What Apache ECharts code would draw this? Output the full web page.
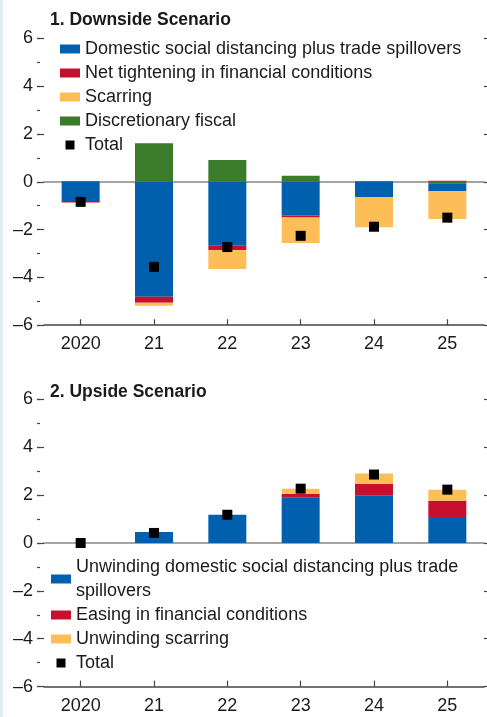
<!DOCTYPE html>
<html>
<head>
<meta charset="utf-8">
<script src="https://cdn.jsdelivr.net/npm/echarts@6/dist/echarts.min.js"></script>
<style>
html,body{margin:0;padding:0;background:#fff;}
#chart{width:487px;height:717px;position:relative;}
#strip{position:absolute;left:0;top:0;width:3px;height:717px;background:#e1ecf7;z-index:10;}
</style>
</head>
<body>
<div id="chart"></div>
<div id="strip"></div>
<script>
const categories = ['2020', '21', '22', '23', '24', '25'];
const yTicks = [-6, -4, -2, 0, 2, 4, 6];

// Panel 1: Downside Scenario
const dsNames = ['Domestic social distancing plus trade spillovers', 'Net tightening in financial conditions', 'Scarring', 'Discretionary fiscal', 'Total'];
const dsBlue   = [-0.80, -4.81, -2.68, -1.41, -0.64, -0.33];
const dsRed    = [-0.07, -0.25, -0.18, -0.08,  0.00,  0.04];
const dsYellow = [ 0.00, -0.13, -0.79, -1.07, -1.26, -1.17];
const dsGreen  = [ 0.03,  1.61,  0.91,  0.25,  0.03, -0.06];
const dsTotal  = [-0.84, -3.56, -2.73, -2.26, -1.88, -1.50];

// Panel 2: Upside Scenario
const usNames = ['Unwinding domestic social distancing plus trade\nspillovers', 'Easing in financial conditions', 'Unwinding scarring', 'Total '];
const usBlue   = [0.00, 0.46, 1.18, 1.91, 1.99, 1.09];
const usRed    = [0.00, 0.00, 0.00, 0.15, 0.49, 0.68];
const usYellow = [0.00, 0.00, 0.00, 0.21, 0.42, 0.46];
const usTotal  = [0.00, 0.42, 1.18, 2.27, 2.86, 2.23];

const C = {blue:'#0060ad', red:'#c8102e', yellow:'#fdbe57', green:'#3a7b2c', black:'#000'};
const FONT = 'Liberation Sans, Arial, sans-serif';
const TXT = '#1a1a1a';

const chart = echarts.init(document.getElementById('chart'), null, {renderer:'canvas'});

const grids = [
  {left:44, width:440, top:38.4, height:286.8},
  {left:44, width:440, top:399.4, height:287.2}
];

function xAxes(g){
  return [
    {type:'category', gridIndex:g, data:categories, position:'bottom',
     axisLine:{onZero:false, lineStyle:{color:'#444', width:1.6}},
     axisTick:{show:true, inside:true, length:6, alignWithLabel:true, lineStyle:{color:'#444', width:1.2}},
     axisLabel:{fontFamily:FONT, fontSize:18, color:TXT, margin:10},
     splitLine:{show:false}},
    {type:'category', gridIndex:g, data:categories, position:'top',
     axisLine:{onZero:true, lineStyle:{color:'#888', width:1.6}},
     axisTick:{show:false}, axisLabel:{show:false}, splitLine:{show:false}}
  ];
}
function yAxes(g){
  return [
    {type:'value', gridIndex:g, min:-6, max:6, interval:2, position:'left',
     axisLine:{show:false},
     axisTick:{show:true, length:7, lineStyle:{color:'#444', width:1.2}},
     axisLabel:{fontFamily:FONT, fontSize:18, color:TXT, margin:11,
       formatter: v => v < 0 ? '\u2013' + (-v) : String(v)},
     splitLine:{show:false}},
    {type:'value', gridIndex:g, min:-6, max:6, interval:1, position:'left', offset:4,
     axisLine:{show:false}, axisTick:{show:true, length:3, lineStyle:{color:'#444', width:1.2}},
     axisLabel:{show:false}, splitLine:{show:false}},
    {type:'value', gridIndex:g, min:-6, max:6, interval:2, position:'right',
     axisLine:{show:false}, axisTick:{show:true, length:4, lineStyle:{color:'#444', width:1.2}},
     axisLabel:{show:false}, splitLine:{show:false}}
  ];
}

function bar(name, data, color, xi, yi, stack){
  return {type:'bar', name, data, xAxisIndex:xi, yAxisIndex:yi, stack, barWidth:38,
    itemStyle:{color}, emphasis:{disabled:true}, z:3};
}
function tot(name, data, xi, yi){
  return {type:'scatter', name, data, xAxisIndex:xi, yAxisIndex:yi, symbol:'rect', symbolSize:10,
    itemStyle:{color:C.black, opacity:1}, z:5};
}

const sqIcon = 'path://M0,0L10,0L10,10L0,10Z';

const option = {
  animation:false,
  backgroundColor:'#ffffff',
  textStyle:{fontFamily:FONT},
  title:[
    {text:'1. Downside Scenario', left:50, top:11, padding:0,
     textStyle:{fontFamily:FONT, fontSize:17.5, fontWeight:'bold', color:TXT}},
    {text:'2. Upside Scenario', left:50, top:383, padding:0,
     textStyle:{fontFamily:FONT, fontSize:17.5, fontWeight:'bold', color:TXT}}
  ],
  grid:grids,
  xAxis:[...xAxes(0), ...xAxes(1)],
  yAxis:[...yAxes(0), ...yAxes(1)],
  legend:[
    {orient:'vertical', left:60, top:37, padding:0, itemGap:0, itemWidth:20, itemHeight:9,
     textStyle:{fontFamily:FONT, fontSize:18, color:TXT, lineHeight:24},
     data:[
       {name:dsNames[0], icon:'rect'}, {name:dsNames[1], icon:'rect'},
       {name:dsNames[2], icon:'rect'}, {name:dsNames[3], icon:'rect'},
       {name:dsNames[4], icon:sqIcon, itemStyle:{color:'#000'}}
     ]},
    {orient:'vertical', left:51, top:555, padding:0, itemGap:0, itemWidth:20, itemHeight:9,
     textStyle:{fontFamily:FONT, fontSize:18, color:TXT, lineHeight:24},
     data:[
       {name:usNames[0], icon:'rect'}, {name:usNames[1], icon:'rect'},
       {name:usNames[2], icon:'rect'},
       {name:usNames[3], icon:sqIcon, itemStyle:{color:'#000'}}
     ]}
  ],
  series:[
    bar(dsNames[3], dsGreen, C.green, 0, 0, 'ds'),
    bar(dsNames[0], dsBlue, C.blue, 0, 0, 'ds'),
    bar(dsNames[1], dsRed, C.red, 0, 0, 'ds'),
    bar(dsNames[2], dsYellow, C.yellow, 0, 0, 'ds'),
    tot(dsNames[4], dsTotal, 0, 0),
    bar(usNames[0], usBlue, C.blue, 2, 3, 'us'),
    bar(usNames[1], usRed, C.red, 2, 3, 'us'),
    bar(usNames[2], usYellow, C.yellow, 2, 3, 'us'),
    tot(usNames[3], usTotal, 2, 3)
  ]
};
chart.setOption(option);
</script>
</body>
</html>
